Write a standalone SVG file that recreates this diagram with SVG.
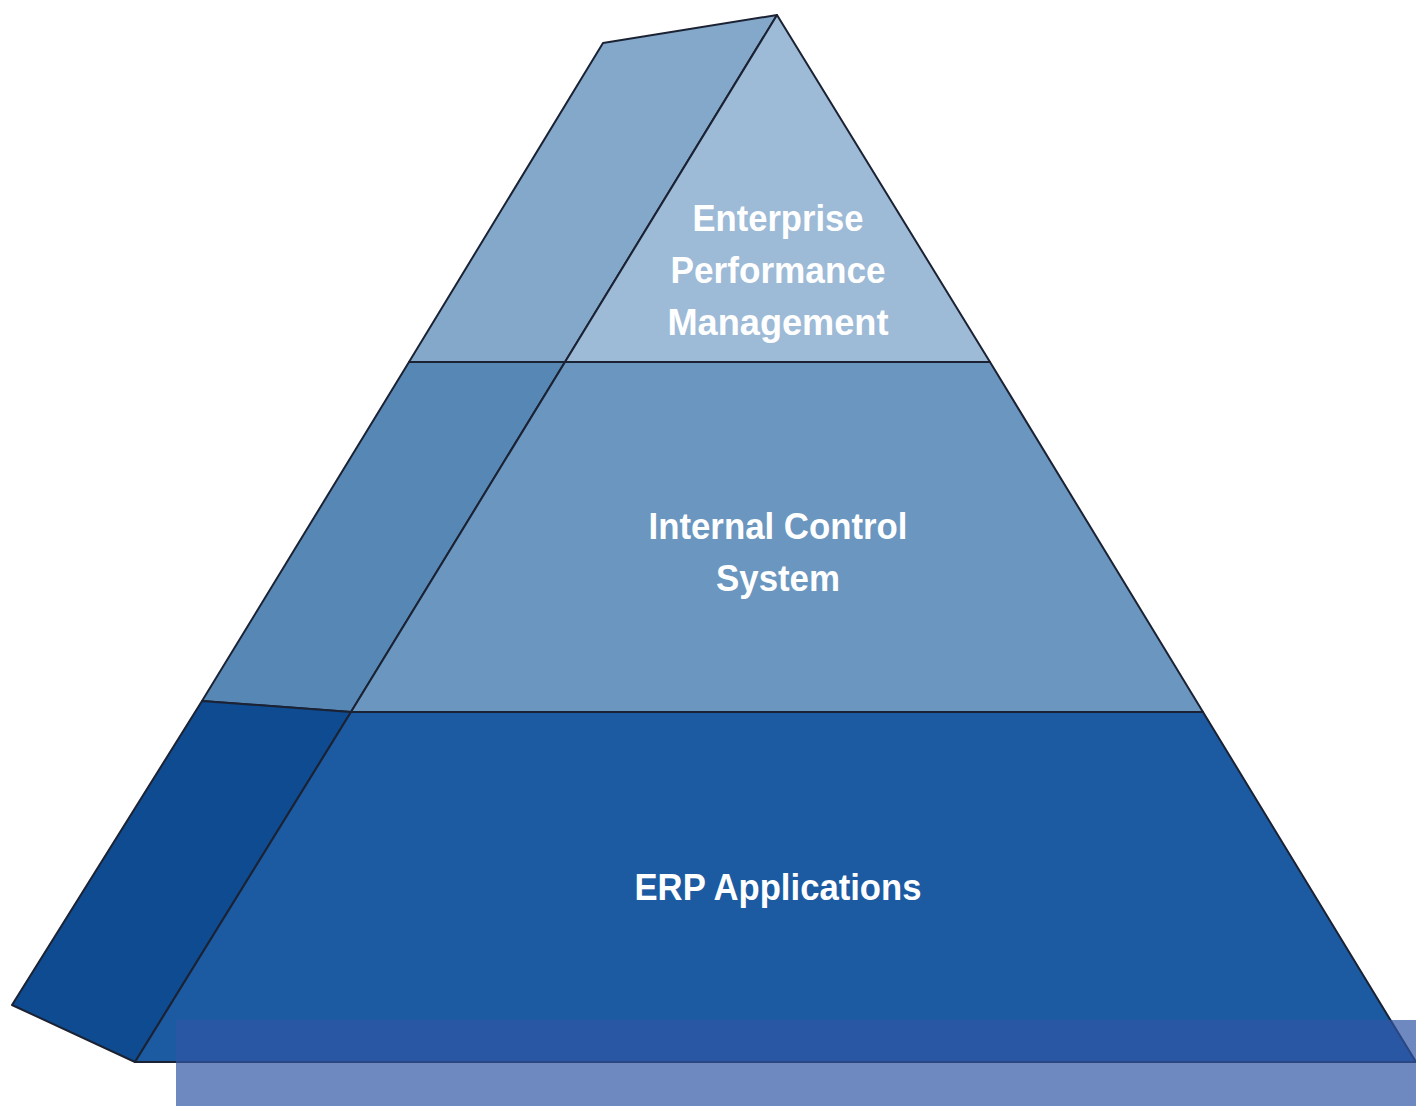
<svg xmlns="http://www.w3.org/2000/svg" width="1416" height="1106" viewBox="0 0 1416 1106">
  <style>
    .edge { stroke: #1b2233; stroke-width: 2; stroke-linejoin: round; }
    .label { font-family: "Liberation Sans", Arial, sans-serif; font-weight: bold; font-size: 37px; fill: #ffffff; text-anchor: middle; }
  </style>
  <rect width="1416" height="1106" fill="#ffffff"/>

  <!-- Top tier: Enterprise Performance Management -->
  <g id="tier-epm">
    <polygon class="edge" points="603,43 777,15 565,362 409,362" fill="#83a8ca"/>
    <polygon class="edge" points="777,15 990,362 565,362" fill="#9dbad7"/>
    <text class="label" x="778" y="231" textLength="171" lengthAdjust="spacingAndGlyphs">Enterprise</text>
    <text class="label" x="778" y="283" textLength="215" lengthAdjust="spacingAndGlyphs">Performance</text>
    <text class="label" x="778" y="335" textLength="221" lengthAdjust="spacingAndGlyphs">Management</text>
  </g>

  <!-- Middle tier: Internal Control System -->
  <g id="tier-ics">
    <polygon class="edge" points="409,362 565,362 351,712 202,701" fill="#5787b4"/>
    <polygon class="edge" points="565,362 990,362 1203,712 351,712" fill="#6a96bf"/>
    <text class="label" x="778" y="539" textLength="259" lengthAdjust="spacingAndGlyphs">Internal Control</text>
    <text class="label" x="778" y="591" textLength="124" lengthAdjust="spacingAndGlyphs">System</text>
  </g>

  <!-- Bottom tier: ERP Applications -->
  <g id="tier-erp">
    <polygon class="edge" points="202,701 351,712 135,1062 12,1005" fill="#0e4b91"/>
    <polygon class="edge" points="351,712 1203,712 1416,1062 135,1062" fill="#1c5aa1"/>
    <text class="label" x="778" y="900" textLength="287" lengthAdjust="spacingAndGlyphs">ERP Applications</text>
  </g>

  <!-- translucent base band -->
  <rect x="176" y="1020" width="1240" height="86" fill="#3056a5" fill-opacity="0.7"/>
</svg>
